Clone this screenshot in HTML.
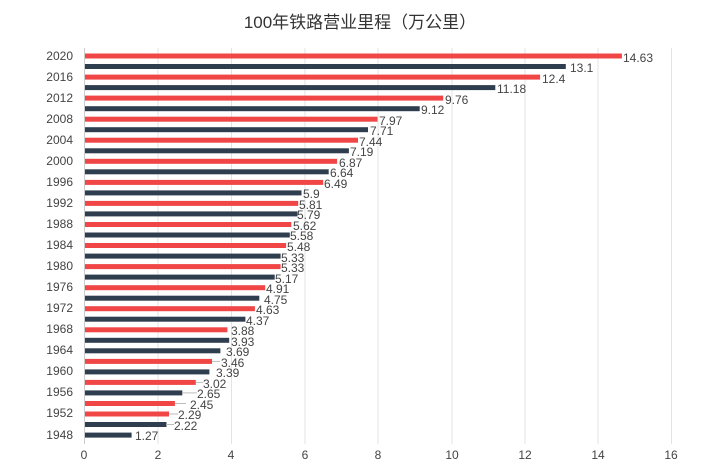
<!DOCTYPE html>
<html><head><meta charset="utf-8"><style>
html,body{margin:0;padding:0;background:#fff}
svg{display:block}
text{font-family:"Liberation Sans","Noto Sans CJK SC",sans-serif;fill:#444}
</style></head><body>
<svg width="720" height="471" viewBox="0 0 720 471">
<text x="360" y="28" text-anchor="middle" style="font-size:17px;fill:#333">100年铁路营业里程（万公里）</text>
<g stroke="#e3e3e3" stroke-width="1">
<line x1="158" y1="48" x2="158" y2="444"/><line x1="231.5" y1="48" x2="231.5" y2="444"/><line x1="305" y1="48" x2="305" y2="444"/><line x1="378" y1="48" x2="378" y2="444"/><line x1="452" y1="48" x2="452" y2="444"/><line x1="525" y1="48" x2="525" y2="444"/><line x1="598" y1="48" x2="598" y2="444"/><line x1="671.5" y1="48" x2="671.5" y2="444"/>
</g>
<line x1="84.5" y1="48" x2="84.5" y2="444" stroke="#ccc"/>
<g style="font-size:12px" text-anchor="middle">
<text x="84" y="459">0</text><text x="158" y="459">2</text><text x="231" y="459">4</text><text x="305" y="459">6</text><text x="378" y="459">8</text><text x="452" y="459">10</text><text x="525" y="459">12</text><text x="598" y="459">14</text><text x="671" y="459">16</text>
</g>
<g style="font-size:12px" text-anchor="end">
<text x="73" y="60">2020</text><text x="73" y="81">2016</text><text x="73" y="102">2012</text><text x="73" y="123">2008</text><text x="73" y="144">2004</text><text x="73" y="165">2000</text><text x="73" y="186">1996</text><text x="73" y="207">1992</text><text x="73" y="228">1988</text><text x="73" y="249">1984</text><text x="73" y="270">1980</text><text x="73" y="291">1976</text><text x="73" y="312">1972</text><text x="73" y="333">1968</text><text x="73" y="354">1964</text><text x="73" y="375">1960</text><text x="73" y="396">1956</text><text x="73" y="417">1952</text><text x="73" y="439">1948</text>
</g>
<g>
<rect x="85" y="53.5" width="536.9" height="5" fill="#F04646"/>
<rect x="85" y="64" width="480.8" height="5" fill="#2F3E4E"/>
<rect x="85" y="74.6" width="455.1" height="5" fill="#F04646"/>
<rect x="85" y="85.1" width="410.3" height="5" fill="#2F3E4E"/>
<rect x="85" y="95.6" width="358.2" height="5" fill="#F04646"/>
<rect x="85" y="106.2" width="334.7" height="5" fill="#2F3E4E"/>
<rect x="85" y="116.7" width="292.5" height="5" fill="#F04646"/>
<rect x="85" y="127.2" width="283.0" height="5" fill="#2F3E4E"/>
<rect x="85" y="137.7" width="273.0" height="5" fill="#F04646"/>
<rect x="85" y="148.3" width="263.9" height="5" fill="#2F3E4E"/>
<rect x="85" y="158.8" width="252.1" height="5" fill="#F04646"/>
<rect x="85" y="169.3" width="243.7" height="5" fill="#2F3E4E"/>
<rect x="85" y="179.9" width="238.2" height="5" fill="#F04646"/>
<rect x="85" y="190.4" width="216.5" height="5" fill="#2F3E4E"/>
<rect x="85" y="200.9" width="213.2" height="5" fill="#F04646"/>
<rect x="85" y="211.4" width="212.5" height="5" fill="#2F3E4E"/>
<rect x="85" y="222" width="206.3" height="5" fill="#F04646"/>
<rect x="85" y="232.5" width="204.8" height="5" fill="#2F3E4E"/>
<rect x="85" y="243" width="201.1" height="5" fill="#F04646"/>
<rect x="85" y="253.6" width="195.6" height="5" fill="#2F3E4E"/>
<rect x="85" y="264.1" width="195.6" height="5" fill="#F04646"/>
<rect x="85" y="274.6" width="189.7" height="5" fill="#2F3E4E"/>
<rect x="85" y="285.2" width="180.2" height="5" fill="#F04646"/>
<rect x="85" y="295.7" width="174.3" height="5" fill="#2F3E4E"/>
<rect x="85" y="306.2" width="169.9" height="5" fill="#F04646"/>
<rect x="85" y="316.7" width="160.4" height="5" fill="#2F3E4E"/>
<rect x="85" y="327.3" width="142.4" height="5" fill="#F04646"/>
<rect x="85" y="337.8" width="144.2" height="5" fill="#2F3E4E"/>
<rect x="85" y="348.3" width="135.4" height="5" fill="#2F3E4E"/>
<rect x="85" y="358.9" width="127.0" height="5" fill="#F04646"/>
<rect x="85" y="369.4" width="124.4" height="5" fill="#2F3E4E"/>
<rect x="85" y="379.9" width="110.8" height="5" fill="#F04646"/>
<rect x="85" y="390.4" width="97.3" height="5" fill="#2F3E4E"/>
<rect x="85" y="401" width="89.9" height="5" fill="#F04646"/>
<rect x="85" y="411.5" width="84.0" height="5" fill="#F04646"/>
<rect x="85" y="422" width="81.5" height="5" fill="#2F3E4E"/>
<rect x="85" y="432.6" width="46.6" height="5" fill="#2F3E4E"/>
</g>
<g stroke="#bbb" stroke-width="1">
<line x1="212" y1="361.4" x2="220" y2="361.4"/><line x1="196" y1="382.4" x2="203" y2="382.4"/><line x1="182" y1="392.9" x2="197" y2="392.9"/><line x1="175" y1="403.5" x2="186" y2="403.5"/><line x1="169" y1="414" x2="178" y2="414"/><line x1="166" y1="424.5" x2="174" y2="424.5"/>
</g>
<g style="font-size:12px">
<text x="623" y="62">14.63</text>
<text x="570" y="72">13.1</text>
<text x="542" y="83">12.4</text>
<text x="497" y="93">11.18</text>
<text x="445" y="104">9.76</text>
<text x="421" y="114">9.12</text>
<text x="379" y="125">7.97</text>
<text x="370" y="135">7.71</text>
<text x="359" y="146">7.44</text>
<text x="350" y="156">7.19</text>
<text x="339" y="167">6.87</text>
<text x="330" y="177">6.64</text>
<text x="324" y="188">6.49</text>
<text x="303" y="198">5.9</text>
<text x="299" y="209">5.81</text>
<text x="297" y="219">5.79</text>
<text x="293" y="230">5.62</text>
<text x="290" y="240">5.58</text>
<text x="287" y="251">5.48</text>
<text x="281" y="262">5.33</text>
<text x="281" y="272">5.33</text>
<text x="275" y="283">5.17</text>
<text x="266" y="293">4.91</text>
<text x="264" y="304">4.75</text>
<text x="256" y="314">4.63</text>
<text x="246" y="325">4.37</text>
<text x="231" y="335">3.88</text>
<text x="231" y="346">3.93</text>
<text x="226" y="356">3.69</text>
<text x="221" y="367">3.46</text>
<text x="216" y="377">3.39</text>
<text x="203" y="388">3.02</text>
<text x="197" y="398">2.65</text>
<text x="190" y="409">2.45</text>
<text x="178" y="419">2.29</text>
<text x="174" y="430">2.22</text>
<text x="135" y="440">1.27</text>
</g>
</svg>
</body></html>
